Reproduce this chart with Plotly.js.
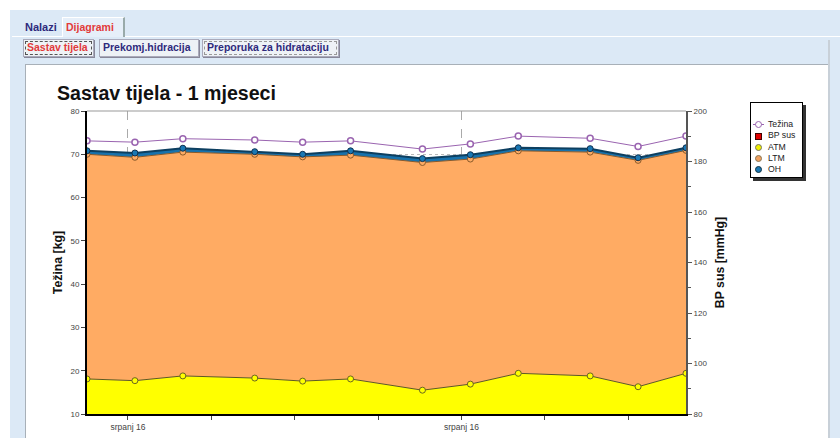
<!DOCTYPE html>
<html><head><meta charset="utf-8">
<script src="https://cdn.plot.ly/plotly-3.0.1.min.js"></script>
<style>
body{margin:0;width:840px;height:438px;overflow:hidden;background:#fff;font-family:"Liberation Sans",Arial,sans-serif;position:relative;}
#bg{position:absolute;left:10px;top:10px;width:830px;height:428px;background:#dce9f6;}
.t{position:absolute;font-weight:bold;font-size:11px;line-height:13px;white-space:nowrap;}
#tabline{position:absolute;left:12px;top:36px;width:828px;height:0;border-top:1px solid #fff;}
#tabD{position:absolute;left:62px;top:17px;width:60px;height:19px;border-left:1px solid #fff;border-top:1px solid #fff;border-right:2px solid #9aa;background:#e6eff9;}
.st{position:absolute;top:39px;height:16px;border:1px solid #aab;background:#eef2f6;box-shadow:1px 1px 0 #889;}
.st .in{position:absolute;left:1px;top:1px;right:1px;bottom:1px;border:1px dashed #777;}
#panel{position:absolute;left:25px;top:64px;width:802px;height:380px;background:#fff;border:1px solid #a8b0b8;}
#rbar{position:absolute;left:828px;top:40px;width:2px;height:400px;background:#c8d0d8;}
#plot{position:absolute;left:0;top:0;width:840px;height:438px;}
#leg{position:absolute;left:750px;top:102px;width:51px;height:74px;background:#fff;border:1px solid #000;box-shadow:3px 3px 0 #333;font-size:8.7px;color:#222;}
.li{position:absolute;left:17px;line-height:10px;}
.mk{position:absolute;width:5px;height:5px;border-radius:50%;}
</style></head>
<body>
<div id="bg"></div>
<div id="tabline"></div>
<div id="tabD"></div>
<div class="t" style="left:25px;top:21px;color:#2e2a7c;">Nalazi</div>
<div class="t" style="left:66px;top:21px;color:#e23a3a;font-size:10.5px;">Dijagrami</div>
<div class="st" style="left:23px;width:69px;"><div class="in" style="border-color:#555;"></div></div>
<div class="st" style="left:99px;width:98px;"></div>
<div class="st" style="left:202px;width:135px;"><div class="in" style="border-color:#999;"></div></div>
<div class="t" style="left:27px;top:41px;color:#e23a3a;font-size:10.5px;">Sastav tijela</div>
<div class="t" style="left:103px;top:41px;color:#2e2a7c;font-size:10.5px;">Prekomj.hidracija</div>
<div class="t" style="left:207px;top:41px;color:#2e2a7c;font-size:10.5px;">Preporuka za hidrataciju</div>
<div id="panel"></div>
<div id="rbar"></div>
<div id="plot"></div>
<div id="leg">
  <div style="position:absolute;left:2px;top:21px;width:11px;border-top:1px solid #9a64b0;"></div>
  <div class="mk" style="left:4px;top:18px;background:#fff;border:1px solid #9a64b0;"></div>
  <div class="li" style="top:16px;">Težina</div>
  <div style="position:absolute;left:4px;top:30px;width:5px;height:5px;background:#e00000;border:1px solid #400;"></div>
  <div class="li" style="top:27px;">BP sus</div>
  <div class="mk" style="left:4px;top:41px;background:#f0f000;border:1px solid #776;"></div>
  <div class="li" style="top:39px;">ATM</div>
  <div class="mk" style="left:4px;top:52px;background:#f0a060;border:1px solid #875;"></div>
  <div class="li" style="top:50px;">LTM</div>
  <div class="mk" style="left:4px;top:63px;background:#1a78b4;border:1px solid #134;"></div>
  <div class="li" style="top:61px;">OH</div>
</div>
<script>
// day offsets of measurements
const days = [0, 2, 4, 7, 9, 11, 14, 16, 18, 21, 23, 25];
const tezina = [73.1, 72.8, 73.6, 73.3, 72.8, 73.1, 71.2, 72.4, 74.2, 73.7, 71.8, 74.2];
const atm = [18.1, 17.7, 18.8, 18.3, 17.6, 18.1, 15.5, 16.9, 19.4, 18.8, 16.3, 19.4];
const ltm = [51.9, 51.6, 51.7, 51.7, 51.8, 51.7, 52.6, 52.0, 51.4, 51.7, 52.3, 51.5];
const oh = [0.8, 1.0, 0.9, 0.6, 0.6, 1.0, 0.9, 1.0, 0.7, 0.8, 0.6, 0.6];
const bpSus = [null, null, null, null, null, null, null, null, null, null, null, null];
const xTickVals = [1.71, 15.63];
const xTickText = ['srpanj 16', 'srpanj 16'];
const xMinorVals = [5.19, 8.67, 12.15, 19.11, 22.59];

const traces = [
  {x: days, y: atm, name: 'ATM', stackgroup: 'bc', mode: 'lines+markers',
   line: {color: '#5e5a20', width: 1}, fillcolor: '#ffff00',
   marker: {size: 6, color: '#ffff00', line: {color: '#6a6620', width: 1}}},
  {x: days, y: ltm, name: 'LTM', stackgroup: 'bc', mode: 'lines+markers',
   line: {color: '#8a5a2a', width: 1}, fillcolor: '#ffab63',
   marker: {size: 6, color: '#ffab63', line: {color: '#8a5a2a', width: 1}}},
  {x: days, y: oh, name: 'OH', stackgroup: 'bc', mode: 'lines+markers',
   line: {color: '#0d3f60', width: 2}, fillcolor: '#1872ac',
   marker: {size: 6, color: '#1a78b4', line: {color: '#0d3050', width: 1}}},
  {x: days, y: tezina, name: 'Težina', mode: 'lines+markers',
   line: {color: '#9a64b0', width: 1},
   marker: {size: 6, color: '#ffffff', line: {color: '#9a64b0', width: 1.5}}},
  {x: days, y: bpSus, name: 'BP sus', yaxis: 'y2', mode: 'markers',
   marker: {symbol: 'square', size: 6, color: '#e00000'}}
];

const layout = {
  width: 840, height: 438,
  margin: {l: 87, r: 154, t: 111, b: 24},
  paper_bgcolor: 'rgba(0,0,0,0)', plot_bgcolor: '#ffffff',
  showlegend: false,
  font: {family: '"Liberation Sans", Arial, sans-serif', color: '#444'},
  title: {text: 'Sastav tijela - 1 mjeseci', xref: 'container', yref: 'container',
          x: 57/840, xanchor: 'left', y: 1 - 93/438, yanchor: 'middle',
          font: {size: 19.6, color: '#111', weight: 'bold'}},
  xaxis: {range: [0, 25], showline: true, linecolor: '#000', linewidth: 2,
          tickmode: 'array', tickvals: xTickVals, ticktext: xTickText,
          ticks: 'outside', ticklen: 4, tickcolor: '#444',
          tickfont: {size: 8.5, color: '#444'},
          showgrid: true, gridcolor: '#aaaaaa', griddash: 'dash', gridwidth: 1,
          minor: {tickmode: 'array', tickvals: xMinorVals, ticks: 'outside', ticklen: 4, tickcolor: '#444', showgrid: false},
          zeroline: false, fixedrange: true},
  yaxis: {range: [10, 80], dtick: 10, showline: true, linecolor: '#000', linewidth: 2,
          ticks: 'outside', ticklen: 4, tickcolor: '#444',
          tickfont: {size: 8, color: '#444'},
          showgrid: true, gridcolor: '#bbbbbb', griddash: 'dot', zeroline: false,
          title: {text: 'Težina [kg]', standoff: 5, font: {size: 12.3, color: '#111', weight: 'bold'}}},
  yaxis2: {range: [80, 200], dtick: 20, overlaying: 'y', side: 'right',
           showline: true, linecolor: '#555', linewidth: 2,
           ticks: 'outside', ticklen: 4, tickcolor: '#555',
           tickfont: {size: 8, color: '#444'}, showgrid: false, zeroline: false,
           minor: {dtick: 10, ticks: 'outside', ticklen: 3, tickcolor: '#555', showgrid: false},
           title: {text: 'BP sus [mmHg]', standoff: 9, font: {size: 12.3, color: '#111', weight: 'bold'}}},
  shapes: [{type: 'line', xref: 'paper', yref: 'paper', x0: 0, x1: 1, y0: 1, y1: 1,
            line: {color: '#999', width: 1}}]
};
Plotly.newPlot('plot', traces, layout, {displayModeBar: false, staticPlot: true});
</script>
</body></html>
